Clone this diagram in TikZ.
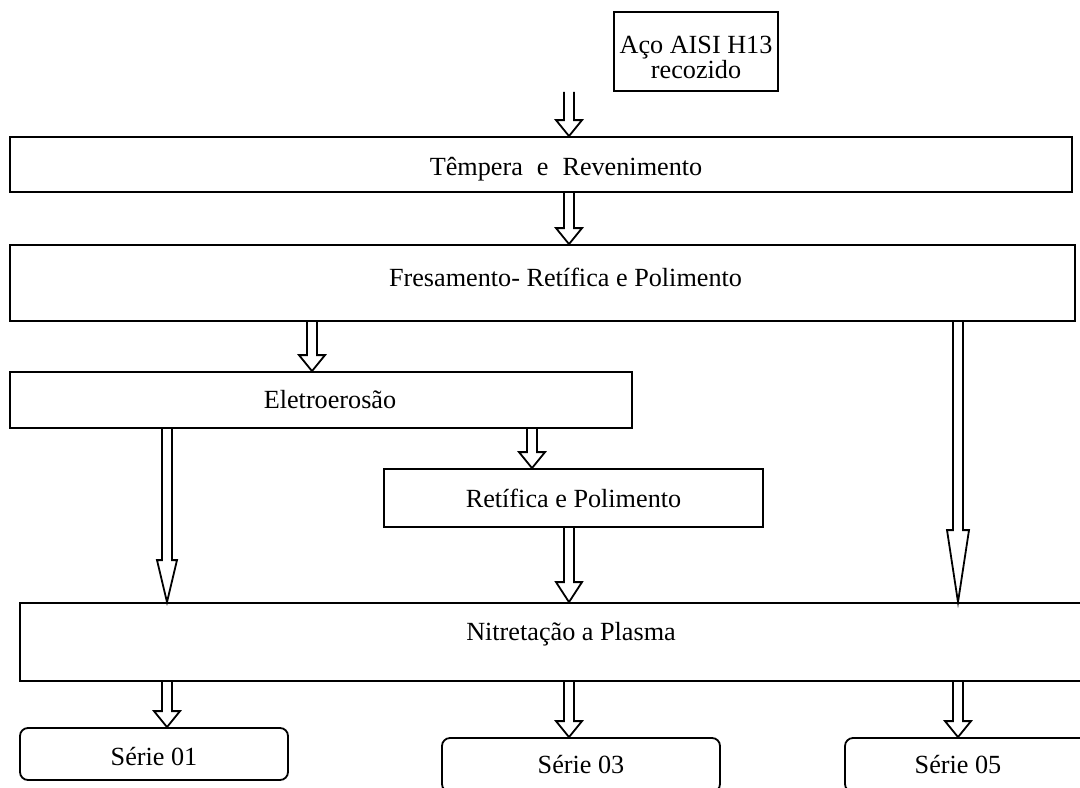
\documentclass[tikz,border=0pt]{standalone}
\usepackage{fontspec}
\setmainfont{Liberation Serif}
\usepackage{tikz}
\usetikzlibrary{positioning,calc}

\newdimen\pxu \pxu=0.5pt
% move text up or down without changing the box size
\newcommand{\lift}[2]{\raisebox{#1}[\height][\depth]{#2}}
% hollow block arrow: x, upper node, lower node, head length, head half width
\newcommand{\hollowdown}[5]{%
  \path (#1,0 |- #2.south) coordinate (arrtop) (#1,0 |- #3.north) coordinate (arrbot);
  \draw[hollow] ($(arrtop)+(-5,0)$) -- ($(arrbot)+(-5,-#4)$) -- ($(arrbot)+(-#5,-#4)$)
    -- (arrbot) -- ($(arrbot)+(#5,-#4)$) -- ($(arrbot)+(5,-#4)$) -- ($(arrtop)+(5,0)$);
}

\begin{document}
\begin{tikzpicture}[
  x=0.5pt, y=-0.5pt,
  procbox/.style={rectangle,draw,line width=0.9pt,inner sep=0pt,align=center,
    font=\fontsize{13.1}{16}\selectfont},
  seriebox/.style={procbox,rounded corners=4pt},
  hollow/.style={line width=0.9pt,line join=miter}
]
\useasboundingbox (0,0) rectangle (1080,787);
\clip (0,0) rectangle (1080,787);

\node[procbox, minimum width=164\pxu, minimum height=79\pxu] (aco) at (696,51.5)
  {\lift{-4pt}{\begin{tabular}{@{}c@{}}Aço AISI H13\\[-3.5pt]recozido\end{tabular}}};
\node[procbox, minimum width=1062\pxu, minimum height=55\pxu] (tempera) at (541,164.5)
  {\lift{-2.5pt}{\hspace*{25pt}Têmpera\hspace{7pt}e\hspace{7pt}Revenimento}};
\node[procbox, minimum width=1065\pxu, minimum height=76\pxu] (fresa) at (542.5,283)
  {\lift{3pt}{\hspace*{23pt}Fresamento- Retífica e Polimento}};
\node[procbox, minimum width=622\pxu, minimum height=56\pxu] (eletro) at (321,400)
  {\hspace*{9pt}Eletroerosão};
\node[procbox, minimum width=379\pxu, minimum height=58\pxu] (retifica) at (573.5,498)
  {Retífica e Polimento};
\node[procbox, minimum width=1102\pxu, minimum height=78\pxu] (nitreta) at (571,642)
  {\lift{4pt}{Nitretação a Plasma}};
\node[seriebox, minimum width=268\pxu, minimum height=52\pxu] (serie1) at (154,754)
  {\lift{-1.5pt}{Série 01}};
\node[seriebox, minimum width=278\pxu, minimum height=54\pxu] (serie3) at (581,765)
  {Série 03};
\node[seriebox, minimum width=250\pxu, minimum height=54\pxu] (serie5) at (970,765)
  {\hspace*{-12pt}Série 05};

\hollowdown{569}{aco}{tempera}{16}{13}
\hollowdown{569}{tempera}{fresa}{16}{13}
\hollowdown{312}{fresa}{eletro}{16}{13}
\hollowdown{958}{fresa}{nitreta}{72}{11}
\hollowdown{167}{eletro}{nitreta}{42}{10}
\hollowdown{532}{eletro}{retifica}{16}{13}
\hollowdown{569}{retifica}{nitreta}{20}{13}
\hollowdown{167}{nitreta}{serie1}{16}{13}
\hollowdown{569}{nitreta}{serie3}{16}{13}
\hollowdown{958}{nitreta}{serie5}{16}{13}
\end{tikzpicture}
\end{document}
